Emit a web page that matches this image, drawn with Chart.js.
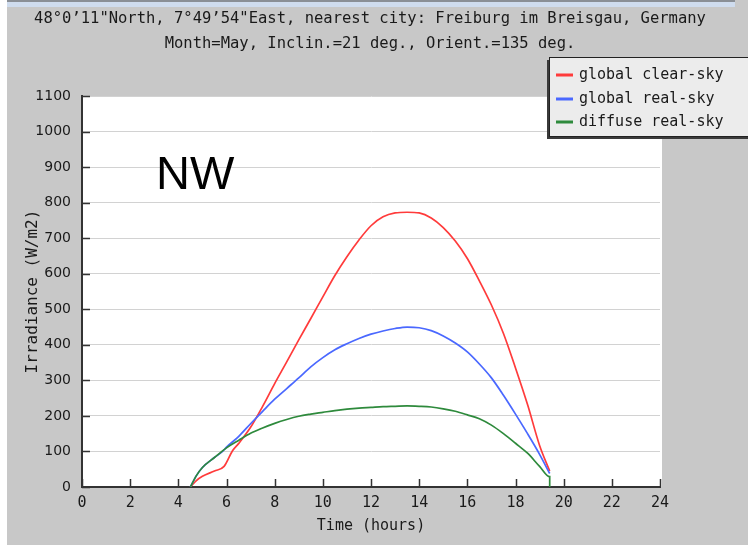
<!DOCTYPE html>
<html>
<head>
<meta charset="utf-8">
<script src="https://cdn.jsdelivr.net/npm/chart.js@4.4.1/dist/chart.umd.min.js"></script>
<style>
  html, body { margin: 0; padding: 0; background: #fff; }
  canvas { display: block; }
</style>
</head>
<body>
<canvas id="irrChart" width="748" height="545"></canvas>
<script>
// Dados de irradiância (W/m2) ao longo do dia
const clearHours = [4.5, 4.75, 5, 5.5, 5.9, 6.25, 6.5, 7, 7.5, 8, 8.5, 9, 9.5, 10, 10.5, 11, 11.5, 12, 12.5, 13, 13.5, 14, 14.5, 15, 15.5, 16, 16.5, 17, 17.5, 18, 18.5, 19, 19.42];
const clearSky = [0, 18, 30, 45, 58, 102, 122, 168, 227, 291, 352, 414, 474, 535, 595, 648, 695, 735, 760, 771, 773, 771, 757, 730, 692, 643, 580, 512, 432, 335, 232, 117, 45];

const realHours = [4.5, 4.75, 5, 5.5, 5.85, 6, 6.5, 7, 7.5, 8, 8.5, 9, 9.5, 10, 10.5, 11, 11.5, 12, 12.5, 13, 13.5, 14, 14.5, 15, 15.5, 16, 16.5, 17, 17.5, 18, 18.5, 19, 19.42];
const realSky = [0, 32, 55, 83, 101, 112, 142, 178, 213, 247, 277, 307, 338, 364, 386, 403, 418, 430, 439, 446, 450, 448, 440, 425, 405, 380, 346, 307, 258, 205, 150, 92, 38];

const diffuseHours = [4.5, 4.75, 5, 5.5, 6, 6.5, 7, 7.5, 8, 8.5, 9, 9.5, 10, 10.5, 11, 11.5, 12, 12.5, 13, 13.5, 14, 14.5, 15, 15.5, 16, 16.5, 17, 17.5, 18, 18.5, 19, 19.42, 19.42];
const diffuseSky = [0, 32, 55, 83, 110, 131, 151, 166, 179, 190, 199, 205, 210, 215, 219, 222, 224, 226, 227, 228, 227, 225, 220, 213, 203, 192, 174, 150, 123, 95, 58, 29, 0];

const titleLines = [
    '48°0’11"North, 7°49’54"East, nearest city: Freiburg im Breisgau, Germany',
    'Month=May, Inclin.=21 deg., Orient.=135 deg.'
];

const MONO = '"DejaVu Sans Mono", monospace';

function toPoints(xs, ys) {
    return xs.map((x, i) => ({ x: x, y: ys[i] }));
}

// Fundo, título, marcas dos eixos, legenda e rótulo "NW"
const decor = {
    id: 'decor',
    beforeDraw(chart) {
        const { ctx, chartArea: a } = chart;
        ctx.save();
        ctx.fillStyle = '#fff';
        ctx.fillRect(0, 0, chart.width, chart.height);
        ctx.fillStyle = '#c8c8c8';
        ctx.fillRect(7, 0, chart.width - 7, chart.height);
        // faixa da janela no topo
        ctx.fillStyle = '#8a8f96';
        ctx.fillRect(7, 0, 728, 2);
        ctx.fillStyle = '#cfdcee';
        ctx.fillRect(7, 2, 728, 5);
        // área branca do gráfico
        ctx.fillStyle = '#fff';
        ctx.fillRect(a.left, a.top, a.right - a.left + 2, a.bottom - a.top);
        // título
        ctx.fillStyle = '#1a1a1a';
        ctx.font = '15.5px ' + MONO;
        ctx.textAlign = 'center';
        ctx.textBaseline = 'middle';
        ctx.fillText(titleLines[0], 370, 19);
        ctx.fillText(titleLines[1], 370, 44);
        ctx.restore();
    },
    afterDraw(chart) {
        const { ctx, chartArea: a, scales } = chart;
        ctx.save();
        // marcas internas dos eixos
        ctx.strokeStyle = '#333';
        ctx.lineWidth = 1.5;
        scales.y.ticks.forEach(t => {
            const y = Math.round(scales.y.getPixelForValue(t.value)) + 0.5;
            ctx.beginPath();
            ctx.moveTo(a.left, y);
            ctx.lineTo(a.left + 8, y);
            ctx.stroke();
        });
        scales.x.ticks.forEach(t => {
            const x = Math.round(scales.x.getPixelForValue(t.value)) + 0.5;
            ctx.beginPath();
            ctx.moveTo(x, a.bottom);
            ctx.lineTo(x, a.bottom - 8);
            ctx.stroke();
        });

        // rótulo NW
        ctx.fillStyle = '#000';
        ctx.font = '47px "Liberation Sans", Arial, sans-serif';
        ctx.textAlign = 'left';
        ctx.textBaseline = 'alphabetic';
        ctx.fillText('NW', 156, 189);

        // legenda com sombra
        const bx = 549, by = 57, bw = 215, bh = 79;
        ctx.fillStyle = '#3a3a3a';
        ctx.fillRect(bx - 2, by + 3, bw, bh);
        ctx.fillStyle = '#ececec';
        ctx.fillRect(bx, by, bw, bh);
        ctx.strokeStyle = '#222';
        ctx.lineWidth = 1;
        ctx.strokeRect(bx + 0.5, by + 0.5, bw, bh);
        ctx.font = '15px ' + MONO;
        ctx.textBaseline = 'middle';
        const rows = [75, 99, 122];
        chart.data.datasets.forEach((ds, i) => {
            ctx.strokeStyle = ds.borderColor;
            ctx.lineWidth = 3;
            ctx.beginPath();
            ctx.moveTo(556, rows[i]);
            ctx.lineTo(573, rows[i]);
            ctx.stroke();
            ctx.fillStyle = '#1a1a1a';
            ctx.fillText(ds.label, 579, rows[i]);
        });
        ctx.restore();
    }
};

const irrCtx = document.getElementById('irrChart').getContext('2d');

const irrChart = new Chart(irrCtx, {
    type: 'line',
    data: {
        datasets: [{
            label: 'global clear-sky',
            data: toPoints(clearHours, clearSky),
            borderColor: '#ff3b3b',
            order: 2
        }, {
            label: 'global real-sky',
            data: toPoints(realHours, realSky),
            borderColor: '#4a68ff',
            order: 1
        }, {
            label: 'diffuse real-sky',
            data: toPoints(diffuseHours, diffuseSky),
            borderColor: '#2e8a3c',
            order: 0
        }]
    },
    options: {
        responsive: false,
        animation: false,
        elements: {
            point: { radius: 0 },
            line: { borderWidth: 1.7, cubicInterpolationMode: 'monotone' }
        },
        layout: {
            padding: { left: 0, right: 88, top: 96, bottom: 0 }
        },
        plugins: {
            legend: { display: false },
            tooltip: { enabled: false }
        },
        scales: {
            x: {
                type: 'linear',
                min: 0,
                max: 24,
                afterFit: s => { s.height = 58; },
                grid: { display: false, drawTicks: false },
                border: { display: true, color: '#333', width: 2 },
                ticks: {
                    stepSize: 2,
                    padding: 7,
                    color: '#1a1a1a',
                    font: { family: MONO, size: 15 }
                },
                title: {
                    display: true,
                    text: 'Time (hours)',
                    color: '#1a1a1a',
                    font: { family: MONO, size: 15 },
                    padding: { top: 0, bottom: 10 }
                }
            },
            y: {
                min: 0,
                max: 1100,
                afterFit: s => { s.width = 82; },
                grid: { color: '#d2d2d2', lineWidth: 1, drawTicks: false },
                border: { display: true, color: '#333', width: 2 },
                ticks: {
                    stepSize: 100,
                    padding: 11,
                    color: '#1a1a1a',
                    font: { family: '"DejaVu Sans", sans-serif', size: 14 },
                    callback: v => String(v)
                },
                title: {
                    display: true,
                    text: 'Irradiance (W/m2)',
                    color: '#1a1a1a',
                    font: { family: MONO, size: 16 },
                    padding: { top: 23, bottom: 0 }
                }
            }
        }
    },
    plugins: [decor]
});
</script>
</body>
</html>
